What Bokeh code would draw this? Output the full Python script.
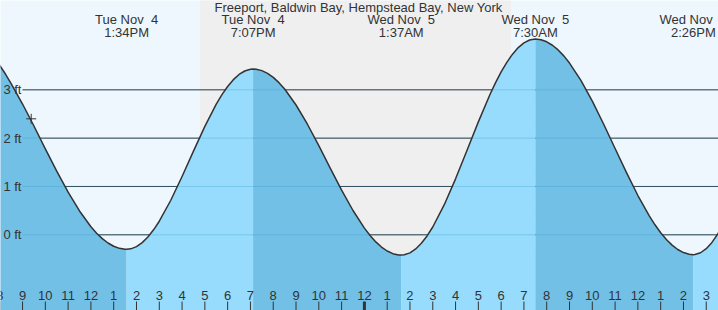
from bokeh.plotting import figure
from bokeh.models import Range1d
from bokeh.core.properties import value
from bokeh.embed import file_html
from bokeh.resources import INLINE

# ---- data (hours relative to Wed Nov 5 00:00, heights in ft) ----
title = "Freeport, Baldwin Bay, Hempstead Bay, New York"

# tide extremes (first and last lie outside the visible window)
extreme_times = [-17.93, -10.433, -4.883, 1.617, 7.5, 14.433, 19.933]
extreme_heights = [4.2, -0.30, 3.43, -0.42, 4.05, -0.41, 4.3]

label_times = [-10.433, -4.883, 1.617, 7.5, 14.433]
NB = "\u00a0"
label_days = ["Tue Nov " + NB + "4", "Tue Nov " + NB + "4", "Wed Nov " + NB + "5",
              "Wed Nov " + NB + "5", "Wed Nov " + NB + "5"]
label_clock = ["1:34PM", "7:07PM", "1:37AM", "7:30AM", "2:26PM"]

# water level, one list per falling / rising stretch
seg_times = [
    [-16.5, -16.25, -16.0, -15.75, -15.5, -15.0, -14.5, -14.0, -13.5, -13.0, -12.5, -12.0,
     -11.75, -11.5, -11.25, -11.0, -10.75, -10.5, -10.433],
    [-10.433, -10.25, -10.0, -9.75, -9.5, -9.25, -9.0, -8.5, -8.0, -7.5, -7.0, -6.5, -6.25,
     -6.0, -5.75, -5.5, -5.25, -5.0, -4.883],
    [-4.883, -4.75, -4.5, -4.25, -4.0, -3.75, -3.5, -3.0, -2.5, -2.0, -1.5, -1.0, -0.5, 0.0,
     0.25, 0.5, 0.75, 1.0, 1.25, 1.5, 1.617],
    [1.617, 1.75, 2.0, 2.25, 2.5, 2.75, 3.0, 3.5, 4.0, 4.5, 5.0, 5.5, 5.75, 6.0, 6.25, 6.5,
     6.75, 7.0, 7.25, 7.5],
    [7.5, 7.75, 8.0, 8.25, 8.5, 8.75, 9.0, 9.5, 10.0, 10.5, 11.0, 11.5, 12.0, 12.5, 12.75,
     13.0, 13.25, 13.5, 13.75, 14.0, 14.25, 14.433],
    [14.433, 14.5, 14.75, 15.0, 15.25, 15.5, 15.75, 16.0],
]
seg_heights = [
    [3.809, 3.667, 3.504, 3.327, 3.130, 2.706, 2.251, 1.779, 1.316, 0.881, 0.493, 0.168,
     0.034, -0.079, -0.169, -0.237, -0.280, -0.299, -0.300],
    [-0.300, -0.290, -0.244, -0.162, -0.046, 0.103, 0.281, 0.710, 1.207, 1.732, 2.244, 2.703,
     2.901, 3.069, 3.210, 3.318, 3.389, 3.426, 3.430],
    [3.430, 3.426, 3.397, 3.341, 3.257, 3.148, 3.016, 2.686, 2.288, 1.844, 1.381, 0.925, 0.503,
     0.139, -0.014, -0.147, -0.253, -0.335, -0.390, -0.417, -0.420],
    [-0.420, -0.414, -0.373, -0.293, -0.176, -0.023, 0.162, 0.618, 1.158, 1.746, 2.337, 2.893,
     3.143, 3.371, 3.569, 3.738, 3.874, 3.970, 4.030, 4.050],
    [4.050, 4.036, 3.993, 3.922, 3.825, 3.702, 3.554, 3.195, 2.766, 2.288, 1.786, 1.286, 0.813,
     0.392, 0.207, 0.044, -0.098, -0.213, -0.304, -0.367, -0.402, -0.410],
    [-0.410, -0.408, -0.371, -0.288, -0.158, 0.014, 0.226, 0.472],
]
seg_rising = [False, True, False, True, False, True]

sunset_h = -7.22
sunrise_h = 6.44

now_time = -14.62
now_height = 2.40

levels = [0, 1, 2, 3]
level_labels = ["0 ft", "1 ft", "2 ft", "3 ft"]

tick_hours = list(range(-16, 16))
tick_labels = ["8", "9", "10", "11", "12", "1", "2", "3", "4", "5", "6", "7", "8", "9", "10", "11",
               "12", "1", "2", "3", "4", "5", "6", "7", "8", "9", "10", "11", "12", "1", "2", "3"]

# ---- styling ----
SKY = "#eef7fe"
NIGHT = "#efefef"
FALL = "#72c0e6"
RISE = "#97dcfc"
INK = "#333333"
FONT = value("Liberation Sans")

X0, X1 = -15.967, 15.537
Y0, Y1 = -1.566, 4.848

p = figure(width=718, height=310, x_range=Range1d(X0, X1), y_range=Range1d(Y0, Y1),
           x_axis_type=None, y_axis_type=None, toolbar_location=None,
           output_backend="svg", min_border=0, background_fill_color=SKY,
           border_fill_color=SKY, outline_line_color=None)
p.grid.visible = False

# night
p.quad(left=[sunset_h], right=[sunrise_h], bottom=[Y0 - 1], top=[Y1 + 1],
       fill_color=NIGHT, line_color=None)

# grid lines (under water)
p.segment(x0=[-15.0] * 4, x1=[X1 + 1] * 4, y0=levels, y1=levels, line_color=INK, line_width=1)

# water
for ts, hs, up in zip(seg_times, seg_heights, seg_rising):
    p.varea(x=ts, y1=[Y0 - 1] * len(ts), y2=hs, fill_color=RISE if up else FALL)

# grid lines seen through water
p.segment(x0=[-15.0] * 4, x1=[X1 + 1] * 4, y0=levels, y1=levels,
          line_color="#3399cc", line_alpha=0.3, line_width=1)

# curve outline
all_t, all_h = [], []
for ts, hs in zip(seg_times, seg_heights):
    all_t += ts
    all_h += hs
p.line(all_t, all_h, line_color=INK, line_width=1.5, line_join="round")

# level labels
p.text(x=[-15.84] * 4, y=levels, text=level_labels, text_font=FONT, text_font_size="13px",
       text_color=INK, text_align="left", text_baseline="middle")

# now marker
p.scatter([now_time], [now_height], marker="cross", size=10, line_color=INK, line_width=1)

# hour ticks
tick_w = [3 if h == 0 else 1 for h in tick_hours]
p.segment(x0=tick_hours, x1=tick_hours, y0=[-1.38] * len(tick_hours), y1=[Y0 - 0.2] * len(tick_hours),
          line_color=INK, line_width=tick_w)
p.text(x=tick_hours, y=[-1.256] * len(tick_hours), text=tick_labels, text_font=FONT,
       text_font_size="13px", text_color=INK, text_align="center", text_baseline="middle")

# extreme labels
p.text(x=label_times, y=[4.45] * 5, text=label_days, text_font=FONT, text_font_size="13px",
       text_color=INK, text_align="center", text_baseline="middle")
p.text(x=label_times, y=[4.18] * 5, text=label_clock, text_font=FONT, text_font_size="13px",
       text_color=INK, text_align="center", text_baseline="middle")

# title
p.text(x=[-0.26], y=[4.70], text=[title], text_font=FONT, text_font_size="13px",
       text_color=INK, text_align="center", text_baseline="middle")

open("out.html", "w").write(file_html(p, INLINE))
